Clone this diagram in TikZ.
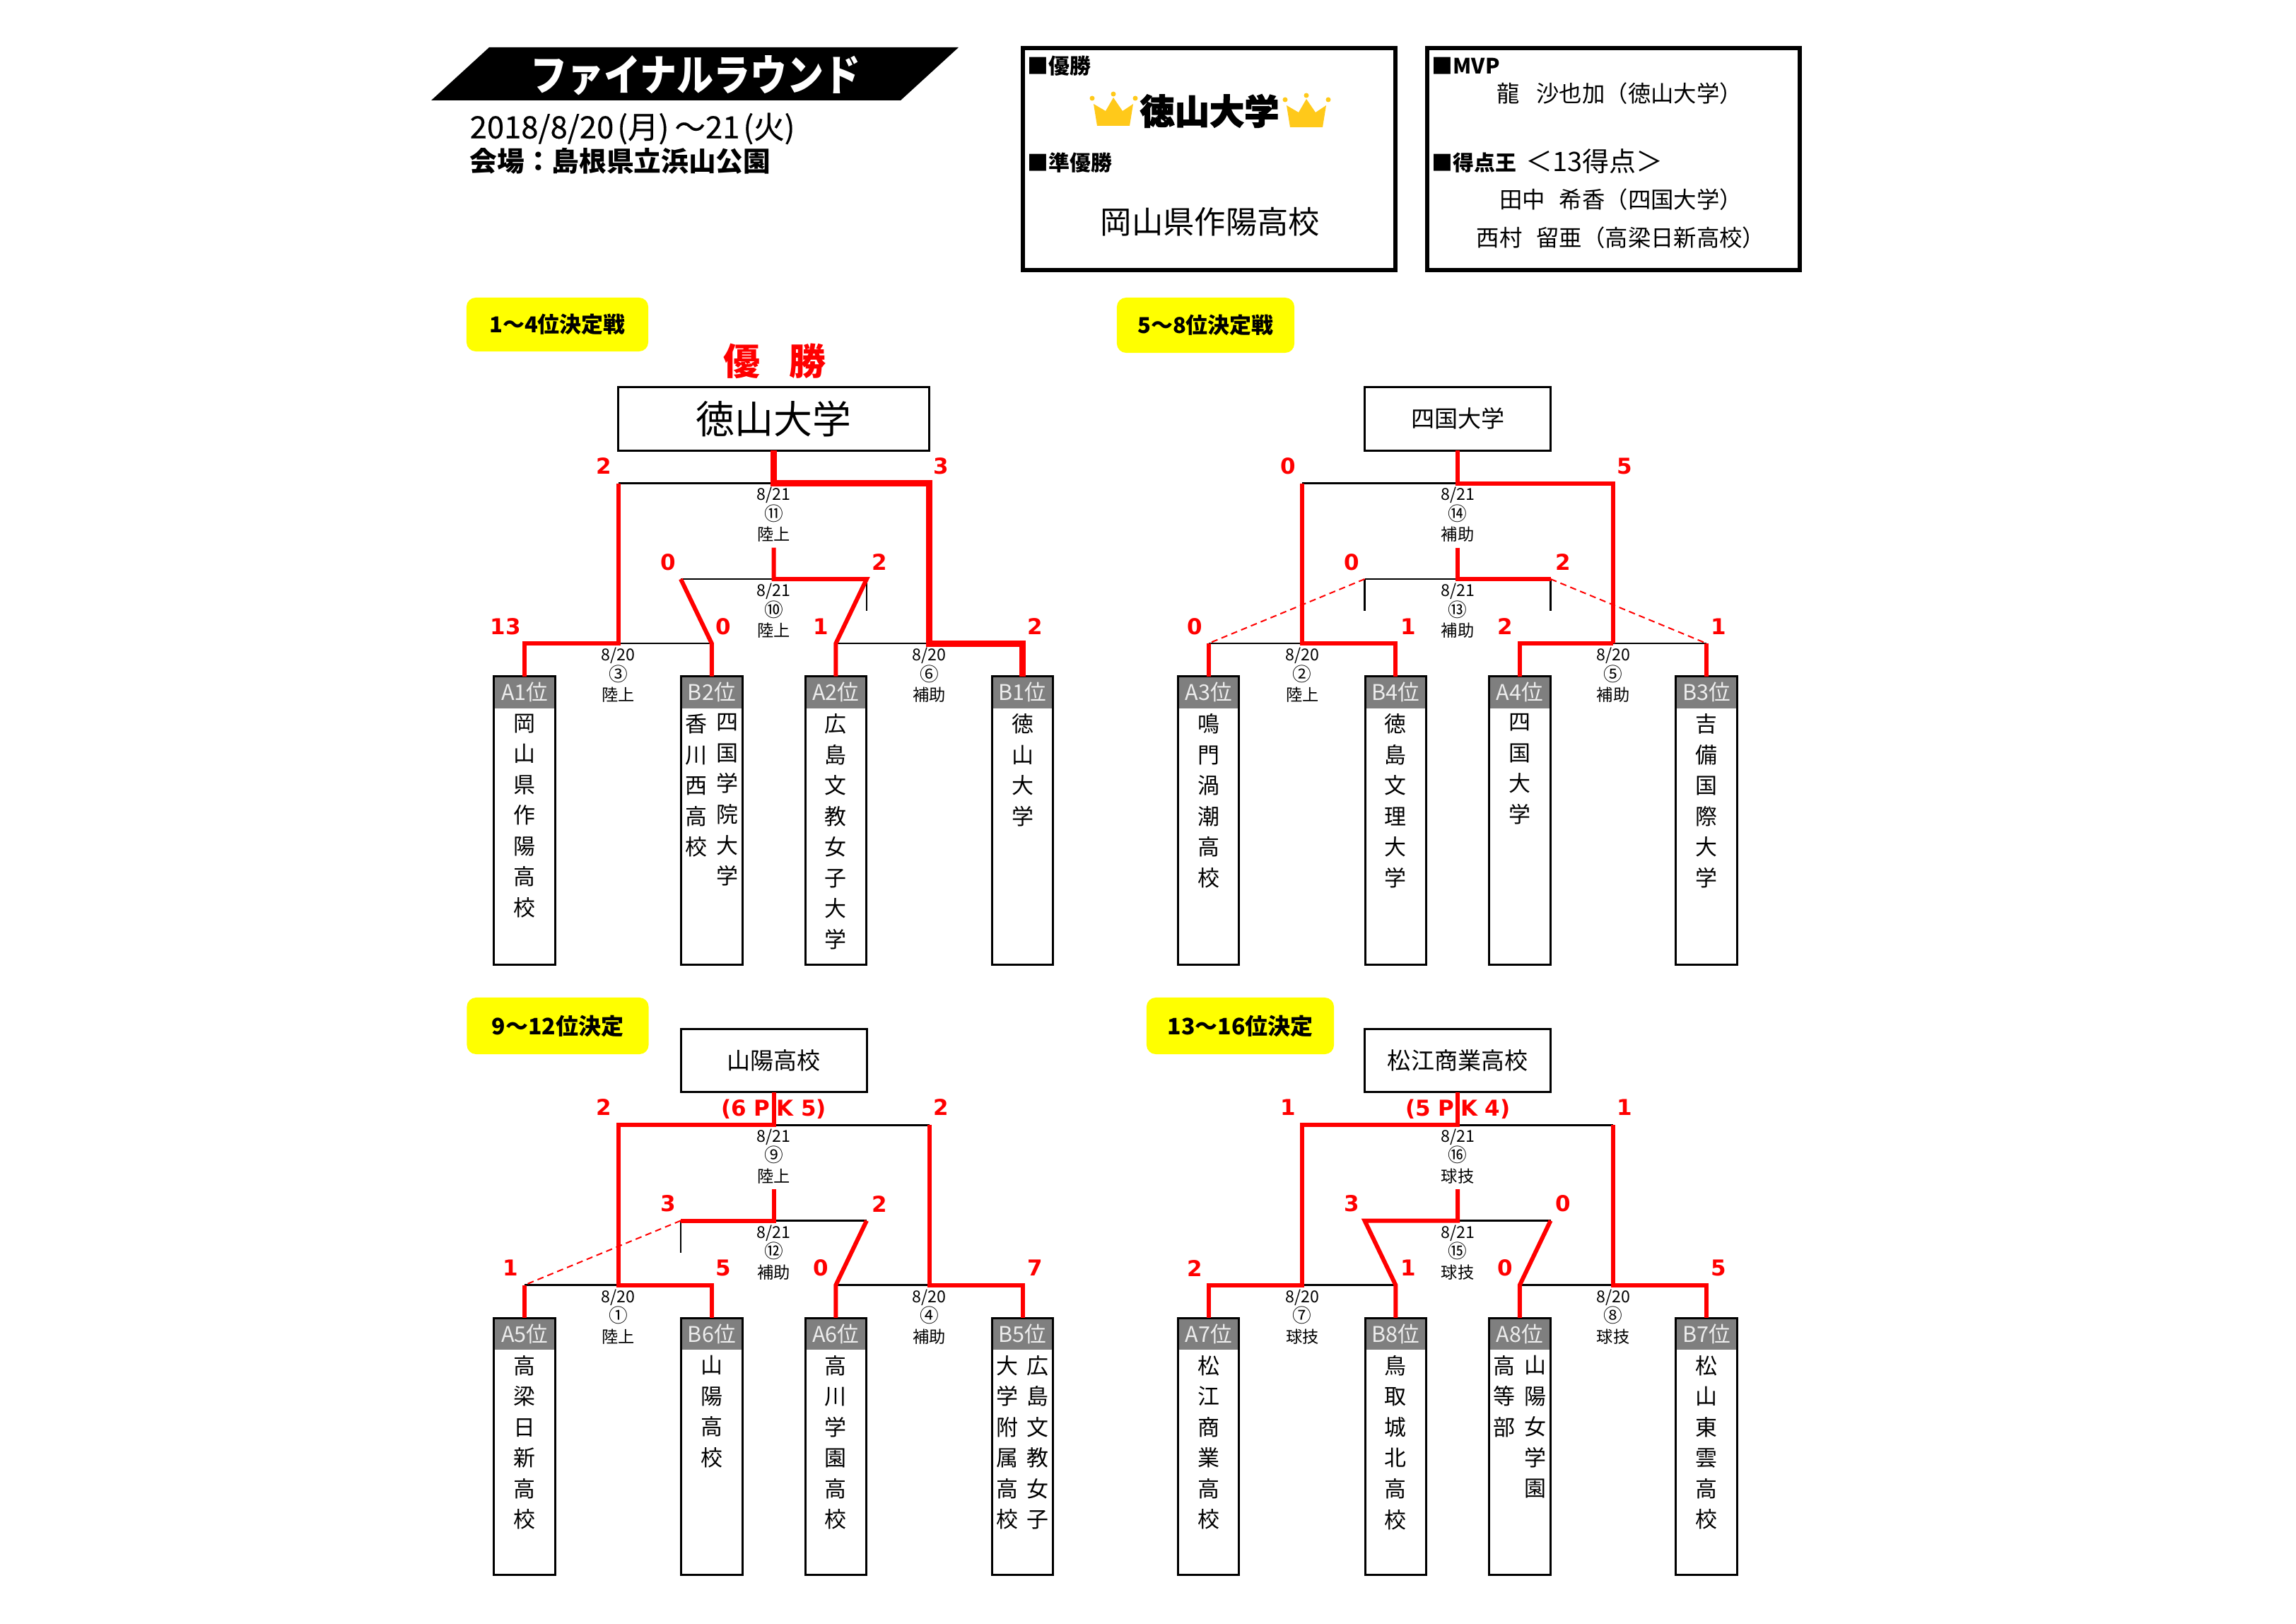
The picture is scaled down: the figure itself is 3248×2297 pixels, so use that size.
\documentclass[tikz,border=0pt]{standalone}
\usepackage{fontspec}
\setmainfont{Noto Sans CJK JP}
\newfontfamily\scorefont{DejaVu Sans}
\newfontfamily\heavyfont{Noto Sans CJK JP}[BoldFeatures={FakeBold=2.5}]
\newfontfamily\datefont{Noto Sans CJK JP}[FakeBold=0.4]
\usepackage{tikz}
\definecolor{crowngold}{HTML}{FFC91A}
\definecolor{headgray}{HTML}{7F7F7F}
\definecolor{headtext}{HTML}{EDEDED}
\definecolor{tabyellow}{HTML}{FFFF00}
\definecolor{markred}{HTML}{FF0000}
\tikzset{
	thinline/.style={line width=0.028cm, color=black},
	redline/.style={line width=0.06cm, color=markred},
	fatline/.style={line width=0.09cm, color=markred},
	dashline/.style={line width=0.02cm, color=markred, dash pattern=on 0.09cm off 0.06cm},
	teamframe/.style={draw, line width=0.03cm, inner sep=0, outer sep=0, minimum width=0.865cm},
	teamtall/.style={teamframe, minimum height=4.08cm},
	teamshort/.style={teamframe, minimum height=3.63cm},
	teamhead/.style={fill=headgray, text=headtext, anchor=north, inner sep=0, outer sep=0, minimum width=0.865cm, minimum height=0.45cm, font=\fontsize{8.7}{10}\selectfont},
	teamtext/.style={align=center, anchor=north, inner sep=0, font=\fontsize{8.8}{12.38}\selectfont},
	topbox/.style={draw, line width=0.03cm, inner sep=0, outer sep=0, minimum width=2.63cm, minimum height=0.895cm, font=\fontsize{9.4}{11}\selectfont},
	finalbox/.style={topbox, minimum width=4.4cm, font=\fontsize{15.6}{18}\selectfont},
	infotext/.style={align=center, inner sep=0, font=\fontsize{6.6}{8.1}\selectfont},
	score/.style={inner sep=0, text=markred, font=\scorefont\bfseries\fontsize{8.8}{10}\selectfont},
	tabbox/.style={fill=tabyellow, rounded corners=0.13cm, inner sep=0, font=\bfseries\fontsize{8.8}{10}\selectfont},
	infobox/.style={draw, line width=0.055cm, inner sep=0, minimum width=5.27cm, minimum height=3.14cm},
	boxhead/.style={anchor=west, inner sep=0, font=\bfseries\fontsize{8.5}{10}\selectfont},
	person/.style={inner sep=0, font=\fontsize{9.2}{11}\selectfont}
}
\def\teambox[#1](#2)(#3)#4{%
	\node[teamhead] (#2h) at (#3,956.5) {#4};
	\node[#1, anchor=north] (#2) at (#3,956.5) {};
}
\def\matchinfo(#1)(#2,#3)#4#5#6{\node[infotext] (#1) at (#2,#3) {#4\\{\fontsize{7.6}{8.1}\selectfont #5}\\#6};}
\def\crown(#1,#2){%
	\fill[crowngold, shift={(#1,#2)}] (1552,178) -- (1598,178) -- (1603,147) -- (1588,157) -- (1575,138) -- (1564,157) -- (1547,147) -- cycle;
	\fill[crowngold, shift={(#1,#2)}] (1545,139) circle (3.5) (1575,133) circle (3.5) (1606,139) circle (3.5);
}
\def\joints#1{%
	\coordinate (t#1m) at (1094.6,683.6);
	\coordinate (t#1l) at (874.8,683.6);
	\coordinate (t#1r) at (1314.5,683.6);
	\coordinate (u#1m) at (1094.6,774.6);
	\coordinate (s#1m) at (1094.6,819);
	\coordinate (s#1l) at (963,819);
	\coordinate (s#1r) at (1226,819);
	\coordinate (d#1l) at (963,864.4);
	\coordinate (d#1r) at (1226,864.4);
	\coordinate (l#1l) at (874.8,910);
	\coordinate (l#1r) at (1314.5,910);
}
\def\blacklines#1(#2,#3,#4,#5){%
	\draw[thinline] (t#1l) -- (t#1r);
	\draw[thinline] (s#1l) -- (s#1r);
	\draw[thinline] (#2.north |- l#1l) -- (#3.north |- l#1l);
	\draw[thinline] (#4.north |- l#1l) -- (#5.north |- l#1l);
}
\begin{document}
\begin{tikzpicture}[x=0.01cm, y=-0.01cm]
		%%%%% START %%%%%
		\useasboundingbox (0,0) rectangle (3248,2297);
		
		\fill[black] (692,67) -- (1356,67) -- (1274,142) -- (610,142) -- cycle;
		\node[inner sep=0, text=white, xscale=0.86, font=\bfseries\fontsize{17.2}{20}\selectfont] (title) at (984,107) {ファイナルラウンド};
		\node[anchor=west, inner sep=0, font=\datefont\fontsize{12.4}{14}\selectfont] (datetext) at (664,182) {2018/8/20\hspace{0.05cm}(月)\hspace{0.08cm}～21\hspace{0.05cm}(火)};
		\node[anchor=west, inner sep=0, font=\bfseries\fontsize{11}{13}\selectfont] (venuetext) at (664,228) {会場：島根県立浜山公園};
		
		\node[infobox] (champbox) at (1710.5,225) {};
		\node[boxhead] (champhead) at (1453,93) {■優勝};
		\crown(0,0)
		\crown(273,2)
		\node[inner sep=0, font=\heavyfont\bfseries\fontsize{14}{16}\selectfont] (champname) at (1711,157) {徳山大学};
		\node[boxhead] (secondhead) at (1453,230) {■準優勝};
		\node[inner sep=0, font=\fontsize{12.6}{14}\selectfont] (secondname) at (1712,314) {岡山県作陽高校};
		
		\node[infobox] (awardbox) at (2282.5,225) {};
		\node[boxhead] (mvphead) at (2025,93) {■MVP};
		\node[person] (mvpname) at (2291,132) {龍\hspace{0.24cm}沙也加（徳山大学）};
		\node[boxhead] (scorerhead) at (2025,230) {■得点王};
		\node[anchor=west, inner sep=0, font=\fontsize{10.8}{12}\selectfont] (scorergoals) at (2158,228) {＜13得点＞};
		\node[person] (scorera) at (2293,282) {田中\hspace{0.2cm}希香（四国大学）};
		\node[person] (scorerb) at (2293,336) {西村\hspace{0.2cm}留亜（高梁日新高校）};
		
		\node[tabbox, minimum width=2.57cm, minimum height=0.76cm] (tab1) at (788.5,459) {1～4位決定戦};
		\node[tabbox, minimum width=2.51cm, minimum height=0.78cm] (tab2) at (1705.5,460) {5～8位決定戦};
		\node[tabbox, minimum width=2.57cm, minimum height=0.8cm, font=\bfseries\fontsize{9.1}{10}\selectfont] (tab3) at (789,1451) {9～12位決定};
		\node[tabbox, minimum width=2.65cm, minimum height=0.8cm, font=\bfseries\fontsize{9.1}{10}\selectfont] (tab4) at (1754.5,1451) {13～16位決定};
		
		\node[inner sep=0, text=markred, font=\bfseries\fontsize{14.8}{17}\selectfont] (champword) at (1096,510.5) {優\hspace{0.41cm}勝};
		
		%%% 1-4
		\joints{1}
		\node[finalbox] (top1) at (1094.6,592.3) {徳山大学};
		\teambox[teamtall](a1)(742.2){A1位}
		\teambox[teamtall](b2)(1006.8){B2位}
		\teambox[teamtall](a2)(1182.4){A2位}
		\teambox[teamtall](b1)(1446.5){B1位}
		\node[teamtext] (a1t) at (742.2,1009) {岡\\山\\県\\作\\陽\\高\\校};
		\node[teamtext] (b2r) at (1028.6,1009) {四\\国\\学\\院\\大\\学};
		\node[teamtext] (b2l) at (985,1009) {香\\川\\西\\高\\校};
		\node[teamtext] (a2t) at (1182.4,1009) {広\\島\\文\\教\\女\\子\\大\\学};
		\node[teamtext] (b1t) at (1446.5,1009) {徳\\山\\大\\学};
		\blacklines{1}(a1,b2,a2,b1)
		\draw[thinline] (s1r) -- (d1r);
		\draw[fatline] (top1.south) -- (t1m) -- (t1r) -- (l1r) -| (b1.north);
		\draw[redline] (a1.north) |- (l1l) -- (t1l);
		\draw[redline] (b2.north) -- (b2.north |- l1l) -- (s1l);
		\draw[redline] (a2.north) -- (a2.north |- l1r) -- (s1r) -- (s1m) -- (u1m);
		\matchinfo(m11)(1094.6,728){8/21}{⑪}{陸上}
		\matchinfo(m10)(1094.6,864){8/21}{⑩}{陸上}
		\matchinfo(m3)(874.8,955){8/20}{③}{陸上}
		\matchinfo(m6)(1314.5,955){8/20}{⑥}{補助}
		\node[score] (s1a) at (854,659) {2};
		\node[score] (s1b) at (1331,659) {3};
		\node[score] (s1c) at (945,795) {0};
		\node[score] (s1d) at (1244,795) {2};
		\node[score] (s1e) at (715,886) {13};
		\node[score] (s1f) at (1023.5,886) {0};
		\node[score] (s1g) at (1161,886) {1};
		\node[score] (s1h) at (1464,886) {2};
		
		%%% 5-8
		\begin{scope}[shift={(967.5,0)}]
			\joints{2}
			\node[topbox] (top2) at (1094.6,592.3) {四国大学};
			\teambox[teamtall](a3)(742.2){A3位}
			\teambox[teamtall](b4)(1006.8){B4位}
			\teambox[teamtall](a4)(1182.4){A4位}
			\teambox[teamtall](b3)(1446.5){B3位}
			\node[teamtext] (a3t) at (742.2,1009) {鳴\\門\\渦\\潮\\高\\校};
			\node[teamtext] (b4t) at (1006.8,1009) {徳\\島\\文\\理\\大\\学};
			\node[teamtext] (a4t) at (1182.4,1009) {四\\国\\大\\学};
			\node[teamtext] (b3t) at (1446.5,1009) {吉\\備\\国\\際\\大\\学};
			\blacklines{2}(a3,b4,a4,b3)
			\draw[thinline] (s2l) -- (d2l);
			\draw[thinline] (s2r) -- (d2r);
			\draw[dashline] (s2l) -- (a3.north |- l2l);
			\draw[dashline] (s2r) -- (b3.north |- l2r);
			\draw[redline] (a3.north) -- (a3.north |- l2l);
			\draw[redline] (b4.north) |- (l2l) -- (t2l);
			\draw[redline] (top2.south) -- (t2m) -- (t2r) -- (l2r);
			\draw[redline] (a4.north) |- (l2r);
			\draw[redline] (b3.north) -- (b3.north |- l2r);
			\draw[redline] (u2m) -- (s2m) -- (s2r);
			\matchinfo(m14)(1094.6,728){8/21}{⑭}{補助}
			\matchinfo(m13)(1094.6,864){8/21}{⑬}{補助}
			\matchinfo(m2)(874.8,955){8/20}{②}{陸上}
			\matchinfo(m5)(1314.5,955){8/20}{⑤}{補助}
			\node[score] (s2a) at (854.5,659) {0};
			\node[score] (s2b) at (1331,659) {5};
			\node[score] (s2c) at (945,795) {0};
			\node[score] (s2d) at (1244,795) {2};
			\node[score] (s2e) at (722.5,886) {0};
			\node[score] (s2f) at (1024.5,886) {1};
			\node[score] (s2g) at (1162,886) {2};
			\node[score] (s2h) at (1463.5,886) {1};
		\end{scope}
		
		%%% 9-12
		\begin{scope}[shift={(0,907.5)}]
			\joints{3}
			\node[topbox] (top3) at (1094.6,592.3) {山陽高校};
			\teambox[teamshort](a5)(742.2){A5位}
			\teambox[teamshort](b6)(1006.8){B6位}
			\teambox[teamshort](a6)(1182.4){A6位}
			\teambox[teamshort](b5)(1446.5){B5位}
			\node[teamtext] (a5t) at (742.2,1009) {高\\梁\\日\\新\\高\\校};
			\node[teamtext] (b6t) at (1006.8,1009) {山\\陽\\高\\校};
			\node[teamtext] (a6t) at (1182.4,1009) {高\\川\\学\\園\\高\\校};
			\node[teamtext] (b5r) at (1468.3,1009) {広\\島\\文\\教\\女\\子};
			\node[teamtext] (b5l) at (1424.7,1009) {大\\学\\附\\属\\高\\校};
			\blacklines{3}(a5,b6,a6,b5)
			\draw[thinline] (s3l) -- (d3l);
			\draw[dashline] (s3l) -- (a5.north |- l3l);
			\draw[redline] (a5.north) -- (a5.north |- l3l);
			\draw[redline] (top3.south) -- (t3m) -- (t3l) -- (l3l) -| (b6.north);
			\draw[redline] (t3r) -- (l3r) -| (b5.north);
			\draw[redline] (u3m) -- (s3m) -- (s3l);
			\draw[redline] (a6.north) -- (a6.north |- l3r) -- (s3r);
			\matchinfo(m9)(1094.6,728){8/21}{⑨}{陸上}
			\matchinfo(m12)(1094.6,864){8/21}{⑫}{補助}
			\matchinfo(m1)(874.8,955){8/20}{①}{陸上}
			\matchinfo(m4)(1314.5,955){8/20}{④}{補助}
			\node[score] (s3a) at (854,659) {2};
			\node[score] (s3b) at (1331,659) {2};
			\node[score] (s3c) at (945,795) {3};
			\node[score] (s3d) at (1244,795) {2};
			\node[score] (s3e) at (722,886) {1};
			\node[score] (s3f) at (1023.5,886) {5};
			\node[score] (s3g) at (1161,886) {0};
			\node[score] (s3h) at (1464,886) {7};
			\node[score] (pk3) at (1094.8,660.9) {(6 P\hspace{0.09cm}K 5)};
		\end{scope}
		
		%%% 13-16
		\begin{scope}[shift={(967.5,907.5)}]
			\joints{4}
			\node[topbox] (top4) at (1094.6,592.3) {松江商業高校};
			\teambox[teamshort](a7)(742.2){A7位}
			\teambox[teamshort](b8)(1006.8){B8位}
			\teambox[teamshort](a8)(1182.4){A8位}
			\teambox[teamshort](b7)(1446.5){B7位}
			\node[teamtext] (a7t) at (742.2,1009) {松\\江\\商\\業\\高\\校};
			\node[teamtext] (b8t) at (1006.8,1009) {鳥\\取\\城\\北\\高\\校};
			\node[teamtext] (a8r) at (1204.2,1009) {山\\陽\\女\\学\\園};
			\node[teamtext] (a8l) at (1160.6,1009) {高\\等\\部};
			\node[teamtext] (b7t) at (1446.5,1009) {松\\山\\東\\雲\\高\\校};
			\blacklines{4}(a7,b8,a8,b7)
			\draw[redline] (top4.south) -- (t4m) -- (t4l) -- (l4l) -| (a7.north);
			\draw[redline] (t4r) -- (l4r) -| (b7.north);
			\draw[redline] (b8.north) -- (b8.north |- l4l) -- (s4l) -- (s4m) -- (u4m);
			\draw[redline] (a8.north) -- (a8.north |- l4r) -- (s4r);
			\matchinfo(m16)(1094.6,728){8/21}{⑯}{球技}
			\matchinfo(m15)(1094.6,864){8/21}{⑮}{球技}
			\matchinfo(m7)(874.8,955){8/20}{⑦}{球技}
			\matchinfo(m8)(1314.5,955){8/20}{⑧}{球技}
			\node[score] (s4a) at (854.5,659) {1};
			\node[score] (s4b) at (1331,659) {1};
			\node[score] (s4c) at (945,795) {3};
			\node[score] (s4d) at (1244,795) {0};
			\node[score] (s4e) at (722.5,886) {2};
			\node[score] (s4f) at (1024.5,886) {1};
			\node[score] (s4g) at (1162,886) {0};
			\node[score] (s4h) at (1463.5,886) {5};
			\node[score] (pk4) at (1094.8,660.9) {(5 P\hspace{0.09cm}K 4)};
		\end{scope}
		
		%%%%% END %%%%%
	\end{tikzpicture}
\end{document}
